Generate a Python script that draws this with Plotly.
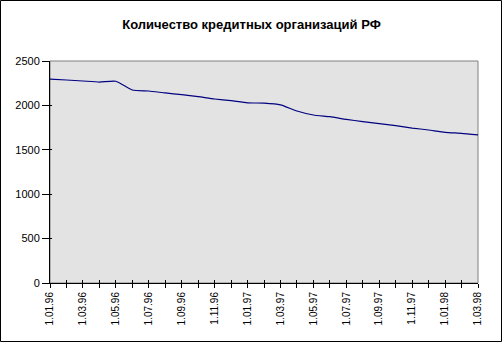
import plotly.graph_objects as go

# Monthly dates, Jan 1996 - Mar 1998
months = ["1.01.96", "1.02.96", "1.03.96", "1.04.96", "1.05.96", "1.06.96",
          "1.07.96", "1.08.96", "1.09.96", "1.10.96", "1.11.96", "1.12.96",
          "1.01.97", "1.02.97", "1.03.97", "1.04.97", "1.05.97", "1.06.97",
          "1.07.97", "1.08.97", "1.09.97", "1.10.97", "1.11.97", "1.12.97",
          "1.01.98", "1.02.98", "1.03.98"]

# Number of credit institutions
counts = [2295, 2286, 2275, 2263, 2272, 2173, 2162, 2140, 2121, 2098,
          2072, 2053, 2029, 2025, 2006, 1937, 1892, 1873, 1843, 1817,
          1794, 1772, 1745, 1723, 1697, 1685, 1667]

# Every second month is labelled
tick_text = [m if i % 2 == 0 else "" for i, m in enumerate(months)]

y_ticks = [0, 500, 1000, 1500, 2000, 2500]

W, H = 503, 343
L, R, T, B = 50, 25, 61, 60
PW, PH = W - L - R, H - T - B

font = "Liberation Sans, Arial, sans-serif"

fig = go.Figure()
fig.add_trace(go.Scatter(x=months, y=counts, mode="lines",
                         line=dict(color="#000080", width=1.2,
                                   shape="spline", smoothing=0.5),
                         hoverinfo="x+y", showlegend=False))
# invisible helpers so the overlay axes (inner tick halves) are drawn
fig.add_trace(go.Scatter(x=months, y=counts, xaxis="x2", yaxis="y2",
                         mode="lines", line=dict(width=0), opacity=0,
                         hoverinfo="skip", showlegend=False))

fig.update_layout(
    width=W, height=H,
    margin=dict(l=L, r=R, t=T, b=B),
    paper_bgcolor="white",
    plot_bgcolor="#e3e3e3",
    title=dict(text="<b>Количество кредитных организаций РФ</b>",
               x=0.5, xanchor="center", y=1 - 24 / H, yanchor="middle",
               font=dict(family=font, size=13, color="black")),
    xaxis=dict(type="category", range=[0, len(months) - 1],
               tickmode="array", tickvals=months, ticktext=tick_text,
               tickangle=-90, ticks="outside", ticklen=4, tickcolor="black",
               showline=True, linecolor="black", linewidth=1,
               showgrid=False, zeroline=False,
               tickfont=dict(family=font, size=10, color="black")),
    yaxis=dict(range=[0, 2500], tickvals=y_ticks,
               ticks="outside", ticklen=7, tickcolor="black",
               showline=True, linecolor="black", linewidth=1,
               showgrid=False, zeroline=False,
               tickfont=dict(family=font, size=11, color="black")),
    xaxis2=dict(type="category", overlaying="x", anchor="y",
                range=[0, len(months) - 1], tickmode="array",
                tickvals=months, showticklabels=False, ticks="inside",
                ticklen=3, tickcolor="black", showgrid=False,
                zeroline=False, showline=False),
    yaxis2=dict(overlaying="y", anchor="x", side="left", range=[0, 2500],
                tickvals=y_ticks, showticklabels=False, ticks="inside",
                ticklen=2, tickcolor="black", showgrid=False,
                zeroline=False, showline=False),
    shapes=[
        # plot-area frame (top and right edges)
        dict(type="rect", xref="paper", yref="paper", x0=0, x1=1, y0=0, y1=1,
             line=dict(color="#808080", width=1), layer="below"),
        # chart border
        dict(type="rect", xref="paper", yref="paper",
             x0=(0.5 - L) / PW, x1=(W - 1.5 - L) / PW,
             y0=(H - B - (H - 1.5)) / PH, y1=(H - B - 0.5) / PH,
             line=dict(color="black", width=1)),
    ],
)

fig.write_html("out.html")
